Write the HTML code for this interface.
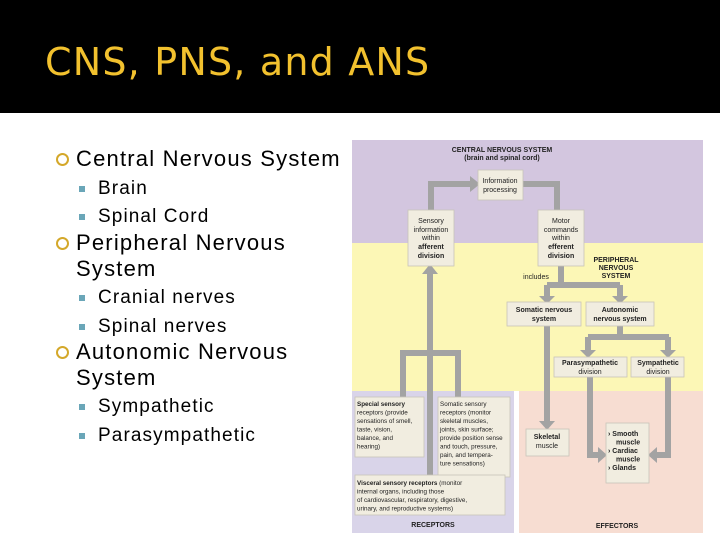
<!DOCTYPE html>
<html><head><meta charset="utf-8"><style>
body{margin:0;width:720px;height:540px;background:#fff;position:relative;overflow:hidden;font-family:"Liberation Sans",sans-serif}
.hdr{position:absolute;left:0;top:0;width:720px;height:113px;background:#000}
.ttl{position:absolute;left:45px;top:40px;color:#f2c12e;font-size:38px;font-family:"DejaVu Sans","Liberation Sans",sans-serif;letter-spacing:1.2px}
.l1,.l2{position:absolute;color:#000;white-space:nowrap}
.l1{font-size:22px;left:76px;letter-spacing:1.2px}
.l2{font-size:19px;left:98px;letter-spacing:1.1px}
.c{position:absolute;left:-20px;top:7px;width:9px;height:9px;border:2px solid #d4a82a;border-radius:50%}
.s{position:absolute;left:-19px;top:8px;width:6px;height:6px;background:#6aa6b8}
</style></head><body>
<div class="hdr"></div>
<div class="ttl">CNS, PNS, and ANS</div>
<div class="l1" style="top:146px"><span class="c"></span>Central Nervous System</div>
<div class="l2" style="top:178px"><span class="s"></span>Brain</div>
<div class="l2" style="top:206px"><span class="s"></span>Spinal Cord</div>
<div class="l1" style="top:230px;line-height:26px"><span class="c"></span>Peripheral Nervous<br>System</div>
<div class="l2" style="top:287px"><span class="s"></span>Cranial nerves</div>
<div class="l2" style="top:316px"><span class="s"></span>Spinal nerves</div>
<div class="l1" style="top:339px;line-height:26px"><span class="c"></span>Autonomic Nervous<br>System</div>
<div class="l2" style="top:396px"><span class="s"></span>Sympathetic</div>
<div class="l2" style="top:425px"><span class="s"></span>Parasympathetic</div>
<svg width="720" height="540" style="position:absolute;left:0;top:0" font-family="Liberation Sans,sans-serif">
<rect x="352" y="140" width="351" height="103" fill="#d3c6df"/>
<rect x="352" y="243" width="351" height="148" fill="#fcf7b6"/>
<rect x="352" y="391" width="162" height="142" fill="#d9d4e9"/>
<rect x="519" y="391" width="184" height="142" fill="#f7ddd2"/>
<g stroke="#a3a3a3" stroke-width="6" fill="none">
<path d="M430 475V272"/><path d="M431 210V184H472"/>
<path d="M523 184H557V210"/>
<path d="M561 266V285M547 285H620M547 285V296M620 285V296"/>
<path d="M547 326V423"/>
<path d="M620 326V337M588 337H669M588 337V351M668 337V351"/>
<path d="M590 377V380M590 377V455H600M668 377V455H655"/>
<path d="M403 397V353H458V397"/>
</g>
<g fill="#a3a3a3">
<polygon points="422,274 438,274 430,264"/>
<polygon points="470,176 470,192 480,184"/>
<polygon points="539,296 555,296 547,304"/>
<polygon points="612,296 628,296 620,304"/>
<polygon points="539,421 555,421 547,430"/>
<polygon points="580,350 596,350 588,358"/>
<polygon points="660,350 676,350 668,358"/>
<polygon points="598,447 598,463 607,455"/>
<polygon points="657,447 657,463 648,455"/>
</g>
<g fill="#f1ede0" stroke="#c8c4b8" stroke-width="0.8">
<rect x="478" y="170" width="45" height="30"/>
<rect x="408" y="210" width="46" height="56"/>
<rect x="538" y="210" width="46" height="56"/>
<rect x="507" y="302" width="74" height="24"/>
<rect x="586" y="302" width="68" height="24"/>
<rect x="554" y="357" width="73" height="20"/>
<rect x="631" y="357" width="53" height="20"/>
<rect x="355" y="397" width="69" height="60"/>
<rect x="438" y="397" width="72" height="80"/>
<rect x="355" y="475" width="150" height="40"/>
<rect x="526" y="429" width="43" height="27"/>
<rect x="606" y="423" width="43" height="60"/>
</g>
<g font-size="7" fill="#222" text-anchor="middle">
<text x="502" y="152" font-weight="bold">CENTRAL NERVOUS SYSTEM</text>
<text x="502" y="160" font-weight="bold">(brain and spinal cord)</text>
<text x="500" y="183">Information</text><text x="500" y="192">processing</text>
<text x="431" y="223">Sensory</text><text x="431" y="232">information</text><text x="431" y="240">within</text>
<text x="431" y="249" font-weight="bold">afferent</text><text x="431" y="258" font-weight="bold">division</text>
<text x="561" y="223">Motor</text><text x="561" y="232">commands</text><text x="561" y="240">within</text>
<text x="561" y="249" font-weight="bold">efferent</text><text x="561" y="258" font-weight="bold">division</text>
<text x="616" y="262" font-weight="bold">PERIPHERAL</text><text x="616" y="270" font-weight="bold">NERVOUS</text><text x="616" y="278" font-weight="bold">SYSTEM</text>
<text x="536" y="279">includes</text>
<text x="544" y="312" font-weight="bold">Somatic nervous</text><text x="544" y="321" font-weight="bold">system</text>
<text x="620" y="312" font-weight="bold">Autonomic</text><text x="620" y="321" font-weight="bold">nervous system</text>
<text x="590" y="365" font-weight="bold">Parasympathetic</text><text x="590" y="374">division</text>
<text x="658" y="365" font-weight="bold">Sympathetic</text><text x="658" y="374">division</text>
<text x="547" y="439" font-weight="bold">Skeletal</text><text x="547" y="448">muscle</text>
<text x="433" y="527" font-weight="bold">RECEPTORS</text>
<text x="617" y="528" font-weight="bold">EFFECTORS</text>
</g>
<g font-size="6.3" fill="#222">
<text x="357" y="406"><tspan font-weight="bold">Special sensory</tspan><tspan x="357" dy="8.5">receptors (provide</tspan><tspan x="357" dy="8.5">sensations of smell,</tspan><tspan x="357" dy="8.5">taste, vision,</tspan><tspan x="357" dy="8.5">balance, and</tspan><tspan x="357" dy="8.5">hearing)</tspan></text>
<text x="440" y="406">Somatic sensory<tspan x="440" dy="8.5">receptors (monitor</tspan><tspan x="440" dy="8.5">skeletal muscles,</tspan><tspan x="440" dy="8.5">joints, skin surface;</tspan><tspan x="440" dy="8.5">provide position sense</tspan><tspan x="440" dy="8.5">and touch, pressure,</tspan><tspan x="440" dy="8.5">pain, and tempera-</tspan><tspan x="440" dy="8.5">ture sensations)</tspan></text>
<text x="357" y="485"><tspan font-weight="bold">Visceral sensory receptors</tspan> (monitor<tspan x="357" dy="8.5">internal organs, including those</tspan><tspan x="357" dy="8.5">of cardiovascular, respiratory, digestive,</tspan><tspan x="357" dy="8.5">urinary, and reproductive systems)</tspan></text>
<text x="608" y="436" font-size="7" font-weight="bold">› Smooth<tspan x="616" dy="8.5">muscle</tspan><tspan x="608" dy="8.5">› Cardiac</tspan><tspan x="616" dy="8.5">muscle</tspan><tspan x="608" dy="8.5">› Glands</tspan></text>
</g>
</svg>
</body></html>
